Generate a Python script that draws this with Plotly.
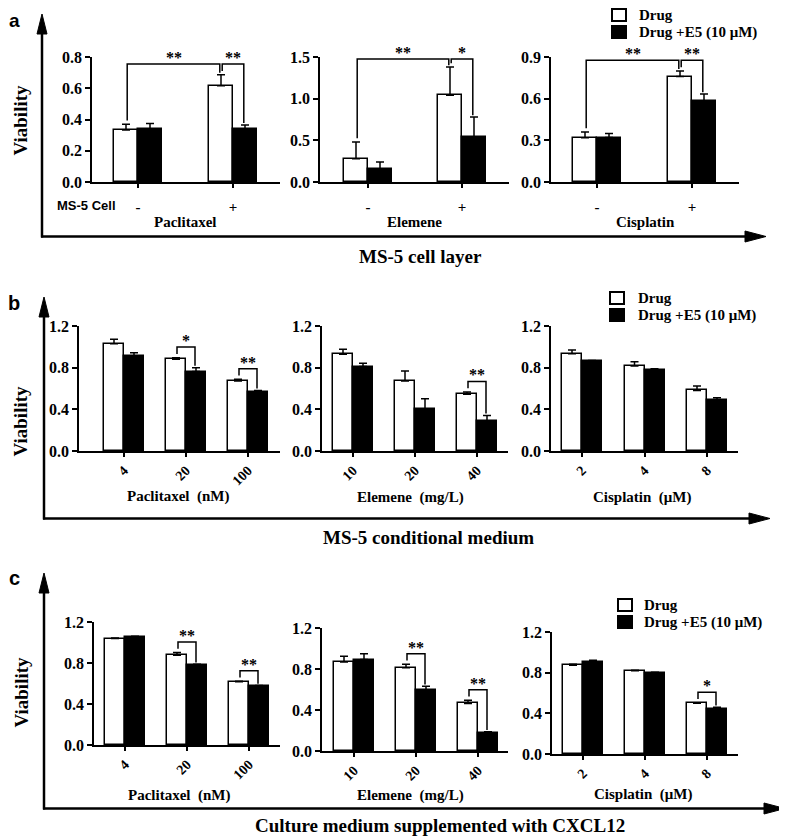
import plotly.graph_objects as go

# page body has an 8px margin: the figure is sized to fill the rest of the window
OFF = 8
W, H = 787 - OFF, 838 - OFF
SERIF = "Liberation Serif"
SANS = "Liberation Sans"

series_names = ["Drug", "Drug +E5 (10 μM)"]

# ---------------- Panel a : MS-5 cell layer ----------------
a_groups = ["-", "+"]
a_pac_drug = [0.333, 0.616]
a_pac_drug_err = [0.036, 0.071]
a_pac_e5 = [0.337, 0.339]
a_pac_e5_err = [0.038, 0.026]

a_ele_drug = [0.28, 1.04]
a_ele_drug_err = [0.20, 0.34]
a_ele_e5 = [0.16, 0.54]
a_ele_e5_err = [0.08, 0.24]

a_cis_drug = [0.318, 0.759]
a_cis_drug_err = [0.042, 0.041]
a_cis_e5 = [0.32, 0.58]
a_cis_e5_err = [0.029, 0.053]

# ---------------- Panel b : MS-5 conditional medium ----------------
pac_doses = ["4", "20", "100"]
ele_doses = ["10", "20", "40"]
cis_doses = ["2", "4", "8"]

b_pac_drug = [1.03, 0.88, 0.672]
b_pac_drug_err = [0.042, 0.016, 0.016]
b_pac_e5 = [0.912, 0.762, 0.566]
b_pac_e5_err = [0.032, 0.038, 0.016]

b_ele_drug = [0.928, 0.672, 0.544]
b_ele_drug_err = [0.048, 0.096, 0.022]
b_ele_e5 = [0.81, 0.40, 0.288]
b_ele_e5_err = [0.032, 0.102, 0.054]

b_cis_drug = [0.934, 0.816, 0.582]
b_cis_drug_err = [0.036, 0.042, 0.042]
b_cis_e5 = [0.864, 0.778, 0.486]
b_cis_e5_err = [0.006, 0.012, 0.026]

# ---------------- Panel c : medium + CXCL12 ----------------
c_pac_drug = [1.038, 0.876, 0.616]
c_pac_drug_err = [0.006, 0.026, 0.007]
c_pac_e5 = [1.054, 0.778, 0.574]
c_pac_e5_err = [0.006, 0.010, 0.006]

c_ele_drug = [0.869, 0.811, 0.464]
c_ele_drug_err = [0.055, 0.036, 0.032]
c_ele_e5 = [0.892, 0.594, 0.172]
c_ele_e5_err = [0.058, 0.038, 0.016]

c_cis_drug = [0.874, 0.818, 0.499]
c_cis_drug_err = [0.010, 0.007, 0.006]
c_cis_e5 = [0.906, 0.792, 0.44]
c_cis_e5_err = [0.017, 0.013, 0.020]

# significance brackets: ((group, series), (group, series), label)
a_pac_sig = [((0, 0), (1, 0), "**"), ((1, 0), (1, 1), "**")]
a_ele_sig = [((0, 0), (1, 0), "**"), ((1, 0), (1, 1), "*")]
a_cis_sig = [((0, 0), (1, 0), "**"), ((1, 0), (1, 1), "**")]
b_pac_sig = [((1, 0), (1, 1), "*"), ((2, 0), (2, 1), "**")]
b_ele_sig = [((2, 0), (2, 1), "**")]
b_cis_sig = []
c_pac_sig = [((1, 0), (1, 1), "**"), ((2, 0), (2, 1), "**")]
c_ele_sig = [((1, 0), (1, 1), "**"), ((2, 0), (2, 1), "**")]
c_cis_sig = [((2, 0), (2, 1), "*")]

# ---------------- layout of subplots (window pixel geometry) ----------------
subplots = [
    dict(groups=a_groups, data=[(a_pac_drug, a_pac_drug_err), (a_pac_e5, a_pac_e5_err)], sig=a_pac_sig,
         l=92, r=280, y0=182, yt=57, c0=138, sp=95, bw=24, ymax=0.8, dtick=0.2, angle=0),
    dict(groups=a_groups, data=[(a_ele_drug, a_ele_drug_err), (a_ele_e5, a_ele_e5_err)], sig=a_ele_sig,
         l=320, r=509, y0=182, yt=57, c0=368, sp=94, bw=24, ymax=1.5, dtick=0.5, angle=0),
    dict(groups=a_groups, data=[(a_cis_drug, a_cis_drug_err), (a_cis_e5, a_cis_e5_err)], sig=a_cis_sig,
         l=551, r=739, y0=182, yt=57, c0=597, sp=95, bw=24, ymax=0.9, dtick=0.3, angle=0),
    dict(groups=pac_doses, data=[(b_pac_drug, b_pac_drug_err), (b_pac_e5, b_pac_e5_err)], sig=b_pac_sig,
         l=79, r=280, y0=451, yt=326, c0=124, sp=62, bw=20, ymax=1.2, dtick=0.4, angle=-45),
    dict(groups=ele_doses, data=[(b_ele_drug, b_ele_drug_err), (b_ele_e5, b_ele_e5_err)], sig=b_ele_sig,
         l=322, r=508, y0=451, yt=326, c0=353, sp=62, bw=20, ymax=1.2, dtick=0.4, angle=-45),
    dict(groups=cis_doses, data=[(b_cis_drug, b_cis_drug_err), (b_cis_e5, b_cis_e5_err)], sig=b_cis_sig,
         l=551, r=738, y0=451, yt=326, c0=582, sp=62.5, bw=20, ymax=1.2, dtick=0.4, angle=-45),
    dict(groups=pac_doses, data=[(c_pac_drug, c_pac_drug_err), (c_pac_e5, c_pac_e5_err)], sig=c_pac_sig,
         l=94, r=280, y0=745, yt=622, c0=125, sp=62, bw=20, ymax=1.2, dtick=0.4, angle=-45),
    dict(groups=ele_doses, data=[(c_ele_drug, c_ele_drug_err), (c_ele_e5, c_ele_e5_err)], sig=c_ele_sig,
         l=322, r=508, y0=751, yt=628, c0=354, sp=62, bw=20, ymax=1.2, dtick=0.4, angle=-45),
    dict(groups=cis_doses, data=[(c_cis_drug, c_cis_drug_err), (c_cis_e5, c_cis_e5_err)], sig=c_cis_sig,
         l=552, r=738, y0=754, yt=632, c0=583, sp=62, bw=20, ymax=1.2, dtick=0.4, angle=-45),
]

fills = ["white", "black"]


def X(px):
    return (px - OFF) / W


def Y(py):
    return 1 - (py - OFF) / H


def bold(size, family=SERIF):
    return dict(family=family, size=size, color="black", weight="bold")


fig = go.Figure()
layout = {}
annotations = []
shapes = []

for i, sp in enumerate(subplots, start=1):
    suf = "" if i == 1 else str(i)
    xa, ya = "x" + suf, "y" + suf
    n = len(sp["groups"])
    bwu = sp["bw"] / sp["sp"]
    for s, (vals, errs) in enumerate(sp["data"]):
        fig.add_trace(go.Bar(
            x=list(range(n)), y=vals, width=bwu, offset=(-bwu if s == 0 else 0),
            marker=dict(color=fills[s], line=dict(color="black", width=1.5)),
            error_y=dict(type="data", array=errs, arrayminus=[0] * n, symmetric=False,
                         color="black", thickness=1.5, width=4),
            name=series_names[s], showlegend=False,
            xaxis=xa, yaxis=ya, hoverinfo="skip",
        ))
    layout["xaxis" + suf] = dict(
        domain=[X(sp["l"]), X(sp["r"])], anchor=ya,
        range=[(sp["l"] - sp["c0"]) / sp["sp"], (sp["r"] - sp["c0"]) / sp["sp"]],
        tickmode="array", tickvals=list(range(n)), ticktext=sp["groups"], tickangle=sp["angle"],
        showline=True, linecolor="black", linewidth=1.5, ticks="outside", ticklen=4, tickwidth=1.5,
        tickcolor="black", showgrid=False, zeroline=False, fixedrange=True, layer="above traces",
        tickfont=bold(15 if sp["angle"] == 0 else 14),
        ticklabelstandoff=(6 if sp["angle"] == 0 else 0),
    )
    layout["yaxis" + suf] = dict(
        domain=[Y(sp["y0"]), Y(sp["yt"])], anchor=xa, range=[0, sp["ymax"]],
        tickmode="linear", tick0=0, dtick=sp["dtick"], tickformat=".1f",
        showline=True, linecolor="black", linewidth=1.5, ticks="outside", ticklen=5, tickwidth=1.5,
        tickcolor="black", showgrid=False, zeroline=False, fixedrange=True, layer="above traces",
        tickfont=bold(16),
    )

    def top_of(g, s_):
        v, e = sp["data"][s_]
        return v[g] + e[g]

    def xpos(g, s_):
        return g + (s_ - 0.5) * bwu

    for (g1, s1), (g2, s2), lab in sp["sig"]:
        order1, order2 = g1 * 2 + s1, g2 * 2 + s2
        tops = [top_of(k // 2, k % 2) for k in range(order1, order2 + 1)]
        h = min(max(tops) + 0.085 * sp["ymax"], 0.985 * sp["ymax"])
        xl = xpos(g1, s1) + 0.05 * bwu
        xr = xpos(g2, s2) - 0.05 * bwu
        yl = min(top_of(g1, s1) + 0.03 * sp["ymax"], h - 0.03 * sp["ymax"])
        yr = min(top_of(g2, s2) + 0.015 * sp["ymax"], h - 0.03 * sp["ymax"])
        fig.add_trace(go.Scatter(
            x=[xl, xl, xr, xr], y=[yl, h, h, yr], mode="lines",
            line=dict(color="black", width=1.5), cliponaxis=False,
            showlegend=False, hoverinfo="skip", xaxis=xa, yaxis=ya,
        ))
        annotations.append(dict(
            x=(xl + xr) / 2, y=h, xref=xa, yref=ya, text=lab, showarrow=False,
            yanchor="bottom", yshift=-4, font=bold(16),
        ))

# ---------------- text labels ----------------
texts = [
    ("b", 14, 303, 20, SANS), ("c", 14, 578, 20, SANS),
    ("MS-5 Cell", 86, 205, 13, SANS),
    ("Paclitaxel", 185, 222, 15, SERIF), ("Elemene", 415, 222, 15, SERIF), ("Cisplatin", 645, 222, 15, SERIF),
    ("Paclitaxel  (nM)", 178, 496, 15, SERIF), ("Elemene  (mg/L)", 410, 497, 15, SERIF),
    ("Cisplatin  (μM)", 642, 497, 15, SERIF),
    ("Paclitaxel  (nM)", 179, 795, 15, SERIF), ("Elemene  (mg/L)", 410, 795, 15, SERIF),
    ("Cisplatin  (μM)", 643, 794, 15, SERIF),
    ("MS-5 cell layer", 420, 256, 19, SERIF),
    ("MS-5 conditional medium", 428, 537, 19, SERIF),
    ("Culture medium supplemented with CXCL12", 440, 825, 19, SERIF),
]
for t, px, py, size, fam in texts:
    annotations.append(dict(x=X(px), y=Y(py), xref="paper", yref="paper", text=t, showarrow=False,
                            xanchor="center", yanchor="middle", font=bold(size, fam)))

# panel letter "a" sits at the very top of the page
annotations.append(dict(x=X(14), y=Y(OFF), xref="paper", yref="paper", text="a", showarrow=False,
                        xanchor="center", yanchor="top", font=bold(19, SANS)))

for py in (120, 421, 692):
    annotations.append(dict(x=X(OFF), y=Y(py), xref="paper", yref="paper", text="Viability", showarrow=False,
                            textangle=-90, xanchor="left", yanchor="middle", font=bold(19)))

# ---------------- legends (one per panel) ----------------
legends = [  # (square left x, first row centre y, row gap, text left x)
    (612, 15, 17, 637),
    (610, 298, 17, 636),
    (618, 605, 17, 642),
]
for sx, cy, gap, tx in legends:
    for s, name in enumerate(series_names):
        yc = cy + s * gap
        shapes.append(dict(type="rect", xref="paper", yref="paper",
                           x0=X(sx), x1=X(sx + 14), y0=Y(yc + 6), y1=Y(yc - 6),
                           fillcolor=fills[s], line=dict(color="black", width=2)))
        annotations.append(dict(x=X(tx), y=Y(yc), xref="paper", yref="paper", text=name, showarrow=False,
                                xanchor="left", yanchor="middle", font=bold(15)))

# ---------------- big axis arrows ----------------
arrows = [  # (x vertical, y tip vertical, y horizontal, x tip horizontal)
    (42, 14, 236.5, 766),
    (44, 297, 518.5, 770),
    (44, 573, 808.5, 785),
]
for xv, ytip, yh, xtip in arrows:
    shapes.append(dict(type="line", xref="paper", yref="paper", x0=X(xv), x1=X(xv),
                       y0=Y(yh + 1), y1=Y(ytip + 15), line=dict(color="black", width=2.5)))
    shapes.append(dict(type="line", xref="paper", yref="paper", x0=X(xv - 1), x1=X(xtip - 18),
                       y0=Y(yh), y1=Y(yh), line=dict(color="black", width=2.5)))
    shapes.append(dict(type="path", xref="paper", yref="paper",
                       path=f"M {X(xv - 5)} {Y(ytip + 20)} L {X(xv + 5)} {Y(ytip + 20)} L {X(xv)} {Y(ytip)} Z",
                       fillcolor="black", line=dict(color="black", width=1)))
    shapes.append(dict(type="path", xref="paper", yref="paper",
                       path=f"M {X(xtip - 21)} {Y(yh - 5.5)} L {X(xtip - 21)} {Y(yh + 5.5)} L {X(xtip)} {Y(yh)} Z",
                       fillcolor="black", line=dict(color="black", width=1)))

fig.update_layout(
    width=W, height=H, autosize=False,
    margin=dict(l=0, r=0, t=0, b=0, autoexpand=False),
    paper_bgcolor="white", plot_bgcolor="white",
    barmode="overlay", bargap=0, showlegend=False,
    annotations=annotations, shapes=shapes,
    **layout,
)

fig.write_html("out.html")
